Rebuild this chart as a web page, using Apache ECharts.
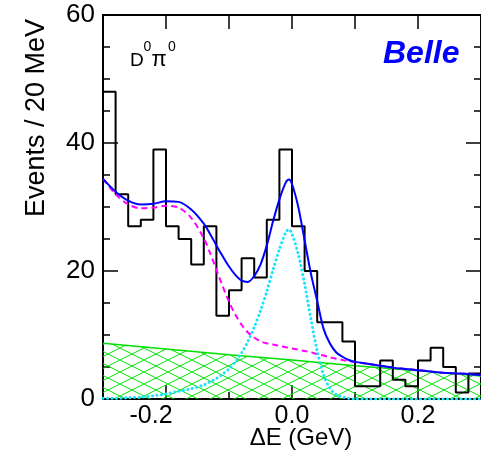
<!DOCTYPE html>
<html><head><meta charset="utf-8">
<script src="https://cdn.jsdelivr.net/npm/echarts@6/dist/echarts.min.js"></script>
<style>html,body{margin:0;padding:0;background:#fff}#c{width:481px;height:452px}</style>
</head><body><div id="c"></div>
<script>
// Histogram: lower bin edges (GeV) and event counts per 20 MeV
const binLow = [-0.30,-0.28,-0.26,-0.24,-0.22,-0.20,-0.18,-0.16,-0.14,-0.12,-0.10,-0.08,-0.06,-0.04,-0.02,
                 0.00, 0.02, 0.04, 0.06, 0.08, 0.10, 0.12, 0.14, 0.16, 0.18, 0.20, 0.22, 0.24, 0.26, 0.28];
const binHighEnd = 0.30;
const counts = [48,32,27,28,39,27,25,21,27,13,17,22,19,28,39,
                27,20,12,12,9,2,2,6,3,2,6,8,5,1,4];

// Fit curves sampled at these x values
const curveX = [-0.30,-0.28,-0.26,-0.24,-0.22,-0.20,-0.18,-0.16,-0.14,-0.13,-0.12,-0.11,-0.10,-0.09,-0.08,-0.07,-0.06,-0.05,-0.04,-0.03,-0.02,-0.01,-0.005,
                 0.00,0.01,0.02,0.03,0.04,0.05,0.06,0.07,0.08,0.09,0.10,0.12,0.14,0.16,0.18,0.20,0.22,0.24,0.26,0.28,0.30];
const totalFit = [34.4,32.4,31.0,30.4,30.5,30.9,30.8,29.6,27.4,25.8,24.0,22.3,20.7,19.4,18.5,18.3,19.2,21.0,24.0,27.8,31.2,33.8,34.3,
                  33.6,30.0,24.8,19.6,15.3,11.0,8.7,7.3,6.6,6.1,5.8,5.5,5.2,4.9,4.7,4.5,4.3,4.1,4.0,3.9,3.7];
const bkgFit   = [34.4,32.0,30.4,29.8,29.9,30.2,29.9,28.3,25.1,22.8,20.2,17.6,15.2,13.2,11.6,10.4,9.6,9.0,8.7,8.5,8.3,8.1,8.0,
                  7.9,7.7,7.5,7.3,7.0,6.8,6.5,6.3,6.1,5.9,5.8,5.5,5.2,4.9,4.7,4.5,4.3,4.1,4.0,3.9,3.7];
const sigFit   = [0.1,0.1,0.2,0.3,0.5,0.8,1.2,1.6,2.2,2.7,3.2,3.9,4.7,5.8,7.2,9.0,11.2,13.8,16.8,20.2,23.4,26.0,26.5,
                  25.8,22.6,18.0,12.5,7.5,3.8,1.7,0.7,0.3,0.1,0.0,0.0,0.0,0.0,0.0,0.0,0.0,0.0,0.0,0.0,0.0];
// Continuum background (hatched)
const contX = [-0.30,-0.20,-0.10,0.00,0.10,0.20,0.30];
const contY = [8.7,7.8,6.9,6.1,5.2,4.4,3.6];

const xLabelVals = [-0.2, 0.0, 0.2];

function pairs(xs, ys){ return xs.map((x,i)=>[x, ys[i]]); }
const histData = pairs(binLow, counts).concat([[binHighEnd, counts[counts.length-1]]]);

function hatch(){
  const c = document.createElement('canvas'); c.width = 24; c.height = 12;
  const g = c.getContext('2d');
  g.strokeStyle = '#00e000'; g.lineWidth = 1;
  g.beginPath();
  g.moveTo(-2,-1); g.lineTo(26,13);
  g.moveTo(-2,13); g.lineTo(26,-1);
  g.stroke();
  return c;
}

const FONT = 'Liberation Sans, Arial, sans-serif';
const blackLine = {color:'#000', width:2};
const tickStyle = {color:'#000', width:1.5};

const chart = echarts.init(document.getElementById('c'), null, {renderer:'canvas'});
chart.setOption({
  animation:false,
  backgroundColor:'#fff',
  grid:{left:103, top:15, width:384, height:384, containLabel:false},
  xAxis:[
    {type:'value', min:-0.3, max:0.3, interval:0.1, position:'bottom',
     axisLine:{show:true, onZero:false, lineStyle:blackLine},
     axisTick:{show:true, inside:true, length:7, lineStyle:tickStyle},
     axisLabel:{show:false}, splitLine:{show:false}},
    {type:'value', min:-0.3, max:0.3, position:'bottom',
     axisLine:{show:false, onZero:false},
     axisTick:{show:true, inside:true, length:14, lineStyle:tickStyle, customValues:xLabelVals},
     axisLabel:{show:true, customValues:xLabelVals, fontSize:25, fontFamily:FONT, color:'#000', margin:5,
                formatter:v=>(v < 0 ? '{n|' + v.toFixed(1) + '}' : v.toFixed(1)),
                rich:{n:{fontSize:25, fontFamily:FONT, color:'#000', padding:[0,30,0,0]}}},
     splitLine:{show:false}},
    {type:'value', min:-0.3, max:0.3, interval:0.1, position:'top',
     axisLine:{show:true, onZero:false, lineStyle:blackLine},
     axisTick:{show:true, inside:true, length:14, lineStyle:tickStyle},
     axisLabel:{show:false}, splitLine:{show:false}}
  ],
  yAxis:[
    {type:'value', min:0, max:60, interval:20, position:'left',
     axisLine:{show:true, onZero:false, lineStyle:blackLine},
     axisTick:{show:true, inside:true, length:15, lineStyle:tickStyle},
     minorTick:{show:true, splitNumber:4, length:7, lineStyle:tickStyle},
     axisLabel:{show:true, fontSize:26, fontFamily:FONT, color:'#000', margin:8},
     splitLine:{show:false}, minorSplitLine:{show:false}},
    {type:'value', min:0, max:60, interval:20, position:'right',
     axisLine:{show:true, onZero:false, lineStyle:blackLine},
     axisTick:{show:true, inside:true, length:15, lineStyle:tickStyle},
     minorTick:{show:true, splitNumber:4, length:7, lineStyle:tickStyle},
     axisLabel:{show:false}, splitLine:{show:false}, minorSplitLine:{show:false}}
  ],
  series:[
    {type:'line', name:'continuum', data:pairs(contX, contY), symbol:'none', z:1,
     lineStyle:{color:'#00e000', width:1.5},
     areaStyle:{color:{image:hatch(), repeat:'repeat'}, opacity:1, origin:'start'}},
    {type:'line', name:'data', data:histData, step:'end', symbol:'none', z:3,
     lineStyle:{color:'#000', width:2}},
    {type:'line', name:'background', data:pairs(curveX, bkgFit), symbol:'none', smooth:0.3, z:4,
     lineStyle:{color:'#ff00ff', width:2, type:[6,4]}},
    {type:'line', name:'signal', data:pairs(curveX, sigFit), symbol:'none', smooth:0.3, z:5,
     lineStyle:{color:'#18e4ff', width:3, type:[0.1,4.4], cap:'round'}},
    {type:'line', name:'total', data:pairs(curveX, totalFit), symbol:'none', smooth:0.3, z:6,
     lineStyle:{color:'#0000ff', width:2}}
  ],
  graphic:[
    {type:'text', x:37, y:118, rotation:Math.PI/2,
     style:{text:'Events / 20 MeV', font:'27px '+FONT, fill:'#000', align:'center', verticalAlign:'middle'}},
    {type:'text', x:301, y:438,
     style:{text:'ΔE (GeV)', font:'24px '+FONT, fill:'#000', align:'center', verticalAlign:'middle'}},
    {type:'text', x:130, y:61,
     style:{text:'D', font:'19px '+FONT, fill:'#000', align:'left', verticalAlign:'middle'}},
    {type:'text', x:143.5, y:47,
     style:{text:'0', font:'14px '+FONT, fill:'#000', align:'left', verticalAlign:'middle'}},
    {type:'text', x:151.5, y:60,
     style:{text:'π', font:'22px '+FONT, fill:'#000', align:'left', verticalAlign:'middle'}},
    {type:'text', x:168, y:47,
     style:{text:'0', font:'14px '+FONT, fill:'#000', align:'left', verticalAlign:'middle'}},
    {type:'text', x:383, y:54,
     style:{text:'Belle', font:'italic bold 32px '+FONT, fill:'#0000ff', align:'left', verticalAlign:'middle'}}
  ]
});
</script>
</body></html>
